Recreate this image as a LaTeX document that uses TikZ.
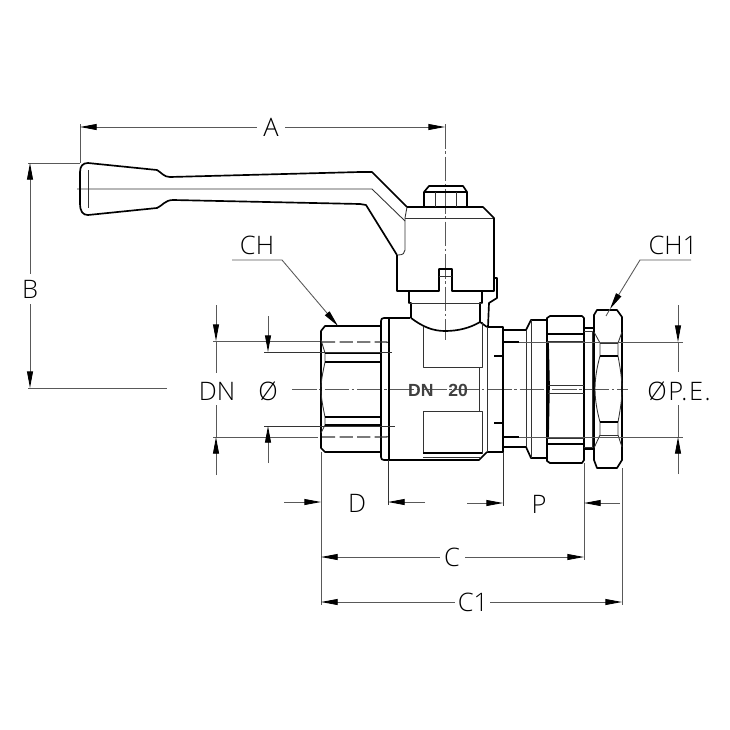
\documentclass[tikz,border=0pt]{standalone}
\usepackage{fontspec}
\setmainfont{Open Sans}[UprightFont=* Light,BoldFont=*]
\newfontfamily\tagfont{Liberation Sans}[Scale=1]
\usetikzlibrary{arrows.meta}

\begin{document}
\begin{tikzpicture}[x=0.02cm,y=-0.02cm,line join=round,
  >={Stealth[length=9.5pt,width=3.4pt,inset=0pt,color=black]},
  outline/.style={line width=0.95pt},
  hairline/.style={line width=0.5pt,black!80},
  dimline/.style={line width=0.5pt,black!65},
  axisline/.style={line width=0.45pt,black!65,dash pattern=on 14pt off 1.5pt on 1.5pt off 1.5pt},
  dimlabel/.style={font=\fontsize{14.5}{16}\selectfont,inner sep=0pt}]

\useasboundingbox (0,0) rectangle (730,730);

% ===== axes =====
\draw[axisline] (292,389) -- (628,389);
\draw[axisline] (445,124) -- (445,340);
\draw[hairline] (77,189) -- (360,189) -- (372,189) -- (405,221);

% ===== handle =====
\draw[outline] (80,172) .. controls (80,166) and (83,163) .. (88,163) -- (157,170)
  .. controls (162,173) and (164,177) .. (170,177) -- (360,172) -- (372,172) -- (407,207);
\draw[outline] (80,203) .. controls (80,212) and (83,215) .. (88,215) -- (157,208)
  .. controls (162,206) and (165,200) .. (173,200) -- (360,204) -- (366,205) -- (397,255);
\draw[outline] (80,172) -- (80,203);
\draw[hairline] (88,170) -- (88,208);
\draw[hairline] (407,207) -- (405,218) -- (405,250) .. controls (405,253) and (403,255) .. (398,255);
\draw[hairline] (405,218) -- (494,218);

% ===== head and nut =====
\draw[outline] (407,207) -- (483,207) -- (494,218) -- (494,291) -- (452,291) -- (452,269)
  -- (439,269) -- (439,291) -- (397,291) -- (397,255);
\draw[hairline] (439,276) -- (452,276);
\draw[outline] (424,207) -- (424,192) -- (429,186) -- (463,186) -- (467,192) -- (467,207);
\draw[outline] (424,192) -- (467,192);
\draw[hairline] (435,192) -- (435,207) (456,192) -- (456,207);
\draw[outline] (494,278) -- (497,278) -- (497,298) -- (489,303) -- (488,327);

% ===== stem =====
\draw[outline] (409,291) -- (409,303) -- (411,303) -- (411,318);
\draw[outline] (482,291) -- (482,303) -- (480,303) -- (480,322);
\draw[hairline] (409,303) -- (482,303);
\draw[outline] (411,318) .. controls (423,327) and (433,331) .. (445,331)
  .. controls (458,331) and (470,328) .. (480,322) -- (487,327);

% ===== centre body =====
\draw[outline] (410,318) -- (384,318) .. controls (382,318) and (381,319) .. (381,321)
  -- (381,457) .. controls (381,459) and (382,460) .. (384,460) -- (479,460) -- (487,452);
\draw[outline] (389,318) -- (389,460);
\draw[outline] (487,327) -- (503,327) -- (503,452) -- (487,452);
\draw[hairline] (487,327) -- (487,452);
\draw[hairline] (423,327) -- (423,367) -- (482,367) -- (482,322);
\draw[hairline] (479,367) -- (479,411);
\draw[hairline] (423,411) -- (482,411) -- (482,454) (423,411) -- (423,453);
\draw[outline] (423,453) -- (482,453);
\draw[hairline] (423,457) -- (480,457);
\draw[outline] (494,356) -- (503,356) (494,423) -- (503,423);
\node[font=\tagfont\bfseries\fontsize{10}{11}\selectfont,text=black!75,inner sep=0pt] (sizetag) at (438,390) {DN\hspace{8.5pt}20};

% ===== threaded end (left) =====
\draw[outline] (381,326) -- (325,326) -- (321,331) -- (321,448) -- (325,452) -- (381,452);
\draw[hairline] (321,340) -- (325,353) -- (325,362) .. controls (323,372) and (321,380) .. (321,389)
  .. controls (321,398) and (323,407) .. (325,417) -- (325,425) -- (321,433);
\draw[outline] (325,353) -- (381,353) (325,362) -- (381,362);
\draw[outline] (325,417) -- (381,417) (325,425) -- (381,425);
\draw[hairline,dash pattern=on 7.5pt off 2.5pt,line width=0.7pt] (322,342) -- (387,342) -- (389,347);
\draw[hairline,dash pattern=on 7.5pt off 2.5pt,line width=0.7pt] (322,437) -- (387,437) -- (389,432);

% ===== union (right) =====
\draw[outline] (503,330) -- (526,330) -- (531,320) -- (547,320);
\draw[outline] (503,447) -- (526,447) -- (531,458) -- (547,458);
\draw[hairline] (526,330) -- (526,447);
\draw[hairline] (531,320) -- (531,458);
\draw[outline] (503,342) -- (519,342) (503,437) -- (519,437);
\draw[outline] (547,320) -- (547,318) -- (550,316) -- (582,316) -- (584,318) -- (584,460)
  -- (582,463) -- (550,463) -- (547,461) -- (547,320);
\draw[outline] (547,334) -- (584,334) (547,444) -- (584,444);
\draw[hairline] (547,341) -- (584,341) (547,438) -- (584,438);
\draw[outline] (548,342) -- (549,385) -- (548,438);
\draw[hairline] (548,385) -- (584,385) (548,393) -- (584,393);
\draw[outline] (584,328) -- (594,328) (584,449) -- (594,449);
\draw[hairline] (584,331) -- (592,331) -- (592,447) -- (584,447);

% ===== nut =====
\draw[outline] (594,315) -- (597,310) -- (617,310) -- (622,317) -- (622,460) -- (617,468)
  -- (597,468) -- (594,460) -- cycle;
\draw[hairline] (594,332) -- (600,343) -- (600,356) .. controls (597,367) and (595,378) .. (595,389)
  .. controls (595,400) and (597,411) .. (600,422) -- (600,435) -- (594,448);
\draw[hairline] (622,332) -- (618,343) -- (618,356) .. controls (620,367) and (622,378) .. (622,389)
  .. controls (622,400) and (620,411) .. (618,422) -- (618,435) -- (622,447);
\draw[hairline] (600,343) -- (618,343) (600,435) -- (618,435);
\draw[outline] (600,356) -- (618,356) (600,422) -- (618,422);

% ===== extension lines =====
\draw[dimline] (80,124) -- (80,163) (28,163) -- (80,163);
\draw[dimline] (28,388) -- (167,388);
\draw[dimline] (213,341) -- (320,341) (213,437) -- (318,437);
\draw[hairline] (264,352) -- (392,352) (264,426) -- (395,426);
\draw[dimline] (519,342) -- (683,342) (519,437) -- (683,437);
\draw[dimline] (321,452) -- (321,605) (622,468) -- (622,605);
\draw[hairline] (388,460) -- (388,505) (503,452) -- (503,506);
\draw[dimline] (584,463) -- (584,560);

% ===== dimensions =====
\node[dimlabel] (dimA) at (271,127) {A};
\draw[<-,dimline] (80,127) -- (257,127);
\draw[->,dimline] (285,127) -- (445,127);

\node[dimlabel] (dimB) at (30,289) {B};
\draw[<-,dimline] (30,163) -- (30,274);
\draw[->,dimline] (30,304) -- (30,388);

\node[dimlabel] (dimDN) at (217,391) {DN};
\draw[->,dimline] (216,305) -- (216,341);
\draw[dimline] (216,341) -- (216,373);
\draw[dimline] (216,405) -- (216,437);
\draw[->,dimline] (216,475) -- (216,437);

\node[dimlabel] (dimOD) at (268,391) {Ø};
\draw[->,dimline] (268,316) -- (268,352);
\draw[->,dimline] (268,463) -- (268,426);

\node[dimlabel,font=\fontsize{14.5}{16}\selectfont\addfontfeature{LetterSpace=6}] (dimPE) at (679,391) {ØP.E.};
\draw[->,dimline] (678,305) -- (678,342);
\draw[dimline] (678,342) -- (678,372);
\draw[dimline] (678,405) -- (678,437);
\draw[->,dimline] (678,474) -- (678,437);

\node[dimlabel] (dimD) at (357,503) {D};
\draw[->,dimline] (284,502) -- (321,502);
\draw[->,dimline] (425,502) -- (388,502);

\node[dimlabel] (dimP) at (539,504) {P};
\draw[->,dimline] (467,503) -- (503,503);
\draw[->,dimline] (620,503) -- (584,503);

\node[dimlabel] (dimC) at (452,557) {C};
\draw[<-,dimline] (321,557) -- (440,557);
\draw[->,dimline] (465,557) -- (584,557);

\node[dimlabel] (dimCa) at (473,602) {C1};
\draw[<-,dimline] (321,602) -- (455,602);
\draw[->,dimline] (490,602) -- (622,602);

% ===== wrench sizes =====
\node[dimlabel] (dimCH) at (257,245) {CH};
\draw[->,dimline] (232,260) -- (282,260) -- (338,326);

\node[dimlabel] (dimCHa) at (673,245) {CH1};
\draw[->,dimline] (691,260) -- (640,260) -- (610,309);
\draw[dimline] (610,309) -- (606,316);

\end{tikzpicture}
\end{document}
